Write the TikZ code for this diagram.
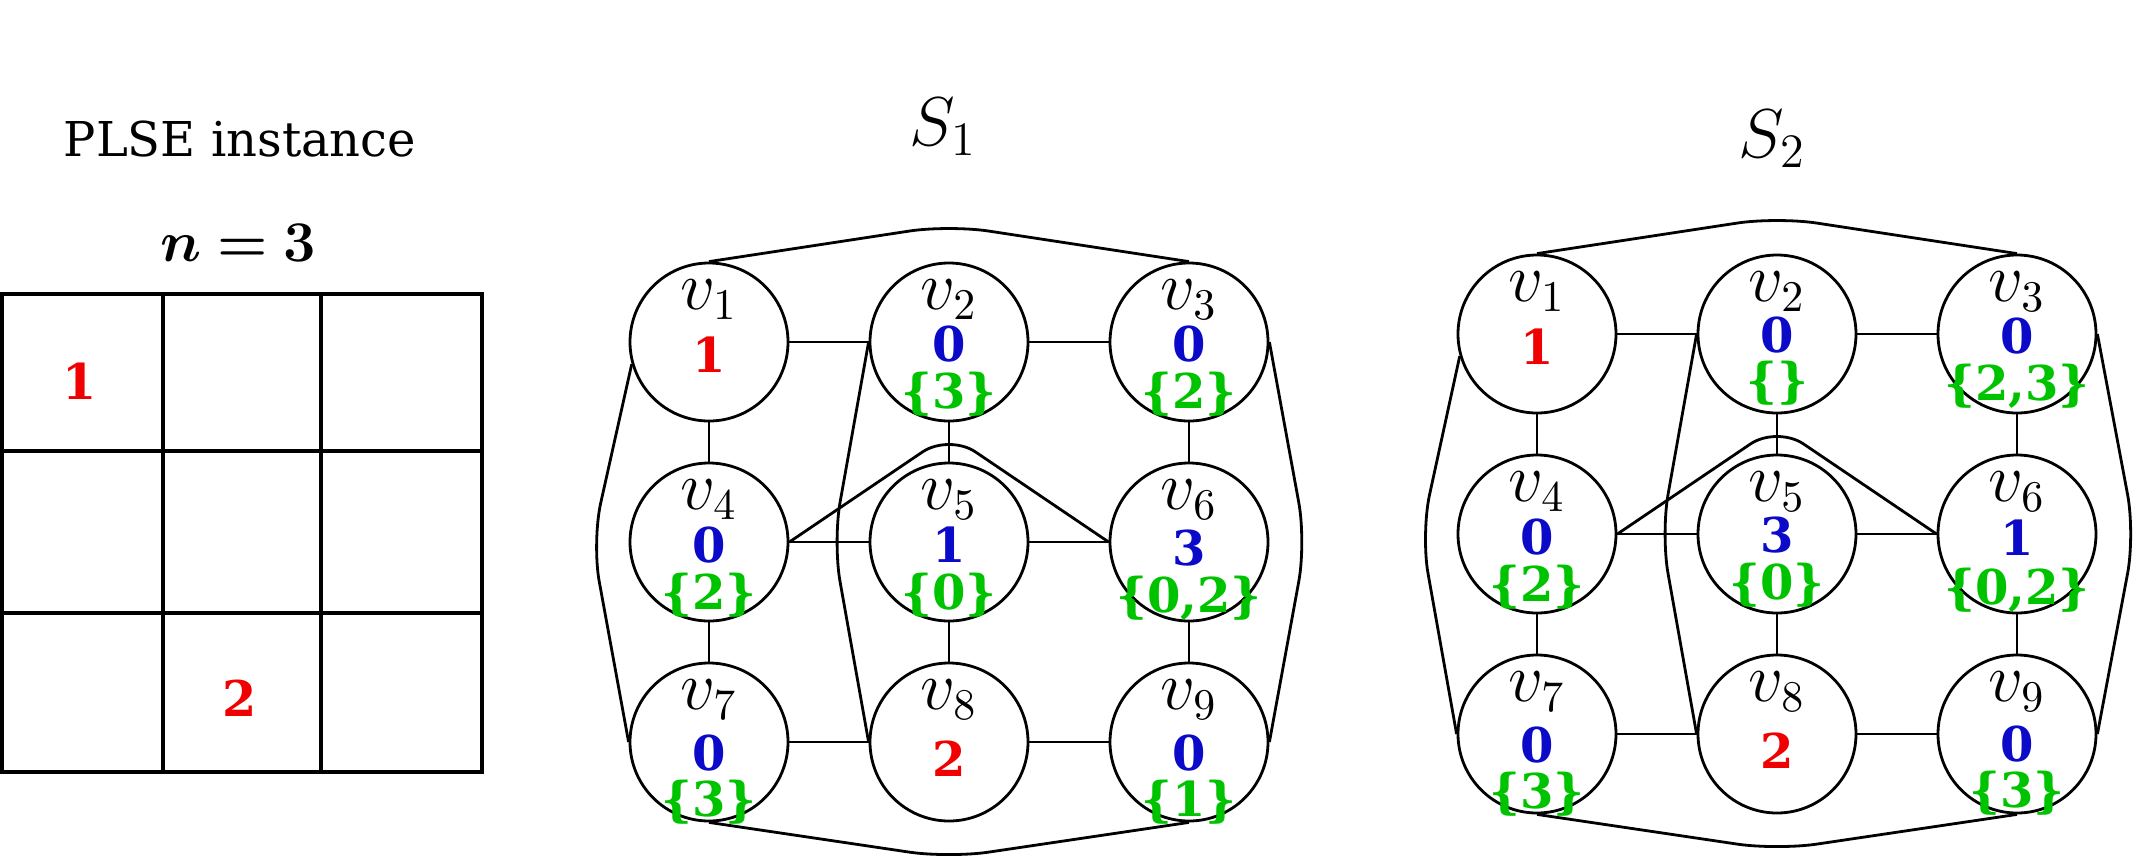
\documentclass[tikz,border=0pt]{standalone}
\usepackage{bm}
\usepackage{fontspec}
\newfontfamily\dvs{DejaVu Serif}
\usetikzlibrary{calc}
\definecolor{nred}{RGB}{240,0,0}
\definecolor{nblue}{RGB}{10,10,200}
\definecolor{ngreen}{RGB}{0,195,0}
\tikzset{
  vert/.style={draw,circle,minimum size=39.5pt,inner sep=0pt,line width=0.7pt,fill=white},
  edge/.style={line width=0.7pt},
  curve/.style={line width=0.7pt,rounded corners=10pt},
  icurve/.style={line width=0.7pt,rounded corners=8pt},
  vlab/.style={anchor=base,inner sep=0pt,font={\fontsize{16}{18}\selectfont}},
  num/.style={anchor=base,inner sep=0pt,font={\fontsize{12}{14}\dvs\bfseries}},
  gnum/.style={anchor=base,inner sep=0pt,font={\fontsize{12.3}{14}\dvs\bfseries}},
  title/.style={anchor=base,inner sep=0pt,font={\fontsize{17.2}{19}\selectfont}},
  plain/.style={anchor=base,inner sep=0pt,font={\fontsize{12}{14}\dvs}},
  eqlab/.style={anchor=base,inner sep=0pt,font={\fontsize{13.8}{16}\selectfont}},
  gridline/.style={line width=0.85pt},
}
\newcommand\vnode[7]{%
  \node[vert] (#1) at (#2) {};
  \node[vlab] (#1l) at ($(#1)+(0,-33)$) {$v_{#3}$};
  \node[num] (#1v) at ($(#1)+(0,#6)$) {#4};
  \if\relax\detokenize{#5}\relax\else
    \node[num,text=ngreen] (#1s) at ($(#1)+(0,#7)$) {#5};\fi
}
\newcommand\gedges[1]{%
  \draw[edge] (#11)--(#12) (#12)--(#13) (#14)--(#15) (#15)--(#16) (#17)--(#18) (#18)--(#19)
    (#11)--(#14) (#14)--(#17) (#12)--(#15) (#15)--(#18) (#13)--(#16) (#16)--(#19);
  \draw[curve] (#11.north) -- (#1T) -- (#13.north);
  \draw[curve] (#17.south) -- (#1B) -- (#19.south);
  \draw[curve] (#11.196) -- (#1L) -- (#17.west);
  \draw[curve] (#13.east) -- (#1R) -- (#19.east);
  \draw[curve] (#12.west) -- (#1I) -- (#18.west);
  \draw[icurve] (#14.east) -- (#1P) -- (#16.west);
}
\begin{document}
\begin{tikzpicture}[x=0.25pt,y=-0.25pt]
\useasboundingbox (0,0) rectangle (2144,868);
% ---------- PLSE instance ----------
\node[plain] (plse) at (240,156) {PLSE instance};
\node[eqlab] (neq) at (238,261) {$\bm{n=3}$};
\draw[gridline] (2,294) rectangle (482,772);
\draw[gridline] (163,294) -- (163,772) (321,294) -- (321,772)
  (2,451) -- (482,451) (2,613) -- (482,613);
\node[gnum,text=nred] (c1) at (80,399) {1};
\node[gnum,text=nred] (c2) at (240,716) {2};
% ---------- S1 ----------
\node[title] (t1) at (943,145) {$S_1$};
\coordinate (aT) at (949,225);
\coordinate (aB) at (949,858);
\coordinate (aL) at (592,542);
\coordinate (aR) at (1306,542);
\coordinate (aI) at (833,542);
\coordinate (aP) at (949,434);
\vnode{a1}{709,342}{1}{\textcolor{nred}{1}}{}{30}{0}
\vnode{a2}{949,342}{2}{\textcolor{nblue}{0}}{\{3\}}{19}{66}
\vnode{a3}{1189,342}{3}{\textcolor{nblue}{0}}{\{2\}}{19}{66}
\vnode{a4}{709,542}{4}{\textcolor{nblue}{0}}{\{2\}}{20}{67}
\vnode{a5}{949,542}{5}{\textcolor{nblue}{1}}{\{0\}}{20}{67}
\vnode{a6}{1189,542}{6}{\textcolor{nblue}{3}}{\{0,2\}}{23}{70}
\vnode{a7}{709,742}{7}{\textcolor{nblue}{0}}{\{3\}}{28}{74}
\vnode{a8}{949,742}{8}{\textcolor{nred}{2}}{}{34}{0}
\vnode{a9}{1189,742}{9}{\textcolor{nblue}{0}}{\{1\}}{28}{74}
\gedges{a}
% ---------- S2 ----------
\node[title] (t2) at (1772,157) {$S_2$};
\coordinate (bT) at (1777,217);
\coordinate (bB) at (1777,850);
\coordinate (bL) at (1421,534);
\coordinate (bR) at (2135,534);
\coordinate (bI) at (1661,534);
\coordinate (bP) at (1777,426);
\vnode{b1}{1537,334}{1}{\textcolor{nred}{1}}{}{30}{0}
\vnode{b2}{1777,334}{2}{\textcolor{nblue}{0}}{\{\}}{18}{63}
\vnode{b3}{2017,334}{3}{\textcolor{nblue}{0}}{\{2,3\}}{19}{66}
\vnode{b4}{1537,534}{4}{\textcolor{nblue}{0}}{\{2\}}{20}{67}
\vnode{b5}{1777,534}{5}{\textcolor{nblue}{3}}{\{0\}}{18}{65}
\vnode{b6}{2017,534}{6}{\textcolor{nblue}{1}}{\{0,2\}}{21}{70}
\vnode{b7}{1537,734}{7}{\textcolor{nblue}{0}}{\{3\}}{28}{74}
\vnode{b8}{1777,734}{8}{\textcolor{nred}{2}}{}{34}{0}
\vnode{b9}{2017,734}{9}{\textcolor{nblue}{0}}{\{3\}}{27}{73}
\gedges{b}
\end{tikzpicture}
\end{document}
